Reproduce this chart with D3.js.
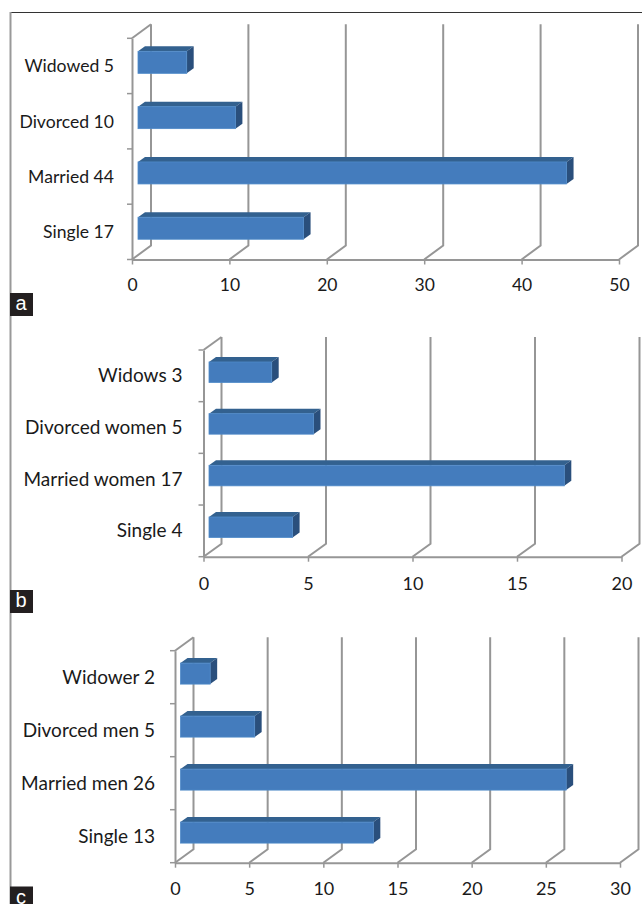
<!DOCTYPE html>
<html>
<head>
<meta charset="utf-8">
<script src="https://cdn.jsdelivr.net/npm/d3@7"></script>
<style>
html, body { margin: 0; padding: 0; background: #fff; }
svg { display: block; }
</style>
</head>
<body>
<div id="chart"></div>
<script>
// values, listed bottom bar first
const categoriesA = ['Single 17', 'Married 44', 'Divorced 10', 'Widowed 5'];
const valuesA = [17, 44, 10, 5];
const ticksA = [0, 10, 20, 30, 40, 50];

const categoriesB = ['Single 4', 'Married women 17', 'Divorced women 5', 'Widows 3'];
const valuesB = [4, 17, 5, 3];
const ticksB = [0, 5, 10, 15, 20];

const categoriesC = ['Single 13', 'Married men 26', 'Divorced men 5', 'Widower 2'];
const valuesC = [13, 26, 5, 2];
const ticksC = [0, 5, 10, 15, 20, 25, 30];

const width = 642;
const height = 904;
const axisColor = '#969696';

const svg = d3.select('#chart').append('svg').attr('width', width).attr('height', height);

// page frame
svg.append('line').attr('x1', 10).attr('x2', 642).attr('y1', 12.5).attr('y2', 12.5)
	.attr('stroke', '#333').attr('stroke-width', 1);
svg.append('line').attr('x1', 10.5).attr('x2', 10.5).attr('y1', 12).attr('y2', 904)
	.attr('stroke', '#999').attr('stroke-width', 2);

function drawPanel(cats, vals, ticks, o) {
	const g = svg.append('g');
	const x = d3.scaleLinear().domain([0, ticks[ticks.length - 1]]).range([o.left, o.right]);
	const y = d3.scaleBand().domain(cats).range([o.bottom, o.top]);

	// back wall lines and the slanted floor lines
	ticks.forEach(t => {
		g.append('path')
			.attr('d', d3.line()([[x(t), o.bottom], [x(t) + o.dx, o.bottom - o.dy], [x(t) + o.dx, o.top - o.dy]]))
			.attr('fill', 'none').attr('stroke', axisColor).attr('stroke-width', 2);
	});
	g.append('line')
		.attr('x1', x(0)).attr('y1', o.top)
		.attr('x2', x(0) + o.dx).attr('y2', o.top - o.dy)
		.attr('stroke', axisColor).attr('stroke-width', 2);

	const xAxis = g.append('g').attr('transform', `translate(0,${o.bottom})`)
		.call(d3.axisBottom(x).tickValues(ticks).tickSize(5).tickSizeOuter(0).tickPadding(o.tickPad).tickFormat(d3.format('d')));
	const yAxis = g.append('g').attr('transform', `translate(${x(0)},0)`)
		.call(d3.axisLeft(y).tickSize(0).tickPadding(o.labelPad));

	// band edges get the tick marks in this chart, not the centres
	y.domain().forEach(c => {
		g.append('line').attr('x1', x(0) - 5).attr('x2', x(0))
			.attr('y1', y(c)).attr('y2', y(c))
			.attr('stroke', axisColor).attr('stroke-width', 1.5);
	});
	g.append('line').attr('x1', x(0) - 5).attr('x2', x(0))
		.attr('y1', o.bottom).attr('y2', o.bottom)
		.attr('stroke', axisColor).attr('stroke-width', 1.5);

	[xAxis, yAxis].forEach(a => {
		a.selectAll('.domain').attr('stroke', axisColor).attr('stroke-width', 2);
		a.selectAll('line').attr('stroke', axisColor).attr('stroke-width', 1.5);
		a.selectAll('text').attr('fill', '#1a1a1a').style('font-family', 'Lato');
	});
	xAxis.selectAll('text').style('font-size', o.tickFont + 'px');
	yAxis.selectAll('text').style('font-size', o.labelFont + 'px').attr('dy', '6.5px');

	// bars: front, top and side faces
	const barLeft = x(0) + o.barOffset;
	const bars = g.selectAll('.bar').data(cats.map((c, i) => ({c: c, v: vals[i]}))).join('g').attr('class', 'bar');
	const frontY = d => y(d.c) + y.bandwidth() / 2 - o.barH / 2 - 3.6;
	const frontR = d => barLeft + x(d.v) - x(0);

	bars.append('path')
		.attr('d', d => d3.line()([
			[barLeft, frontY(d)], [barLeft + o.barDx, frontY(d) - o.barDy],
			[frontR(d) + o.barDx, frontY(d) - o.barDy], [frontR(d), frontY(d)]
		]) + 'Z')
		.attr('fill', '#33618f');
	bars.append('path')
		.attr('d', d => d3.line()([
			[frontR(d), frontY(d)], [frontR(d) + o.barDx, frontY(d) - o.barDy],
			[frontR(d) + o.barDx, frontY(d) + o.barH - o.barDy], [frontR(d), frontY(d) + o.barH]
		]) + 'Z')
		.attr('fill', '#2a4f7c');
	bars.append('rect')
		.attr('x', barLeft).attr('y', frontY)
		.attr('width', d => x(d.v) - x(0)).attr('height', o.barH)
		.attr('fill', '#447cbd').attr('stroke', '#4f8ac9').attr('stroke-width', 0.8);

	// panel letter
	g.append('rect').attr('x', 10).attr('y', o.tagY).attr('width', 23).attr('height', 23).attr('fill', '#231f20');
	g.append('text').attr('x', 21).attr('y', o.tagY + 17).attr('text-anchor', 'middle')
		.attr('fill', '#fff').style('font-family', 'Liberation Sans').style('font-size', '20px')
		.text(o.tag);
}

drawPanel(categoriesA, valuesA, ticksA, {
	left: 132, right: 619, top: 38.3, bottom: 259.5, dx: 19, dy: 14, tickPad: 14, tickFont: 17.5, labelFont: 17.6,
	barOffset: 6, barH: 22, barDx: 7, barDy: 5, labelPad: 18, tag: 'a', tagY: 293
});
drawPanel(categoriesB, valuesB, ticksB, {
	left: 203.5, right: 621.5, top: 350, bottom: 556.7, dx: 18, dy: 13, tickPad: 16, tickFont: 18, labelFont: 19,
	barOffset: 5.5, barH: 20.5, barDx: 7, barDy: 5, labelPad: 21, tag: 'b', tagY: 590
});
drawPanel(categoriesC, valuesC, ticksC, {
	left: 175, right: 620, top: 650.7, bottom: 862.7, dx: 18.5, dy: 13.5, tickPad: 15, tickFont: 18, labelFont: 19,
	barOffset: 5.5, barH: 21, barDx: 7, barDy: 5, labelPad: 20, tag: 'c', tagY: 886.5
});
</script>
</body>
</html>
